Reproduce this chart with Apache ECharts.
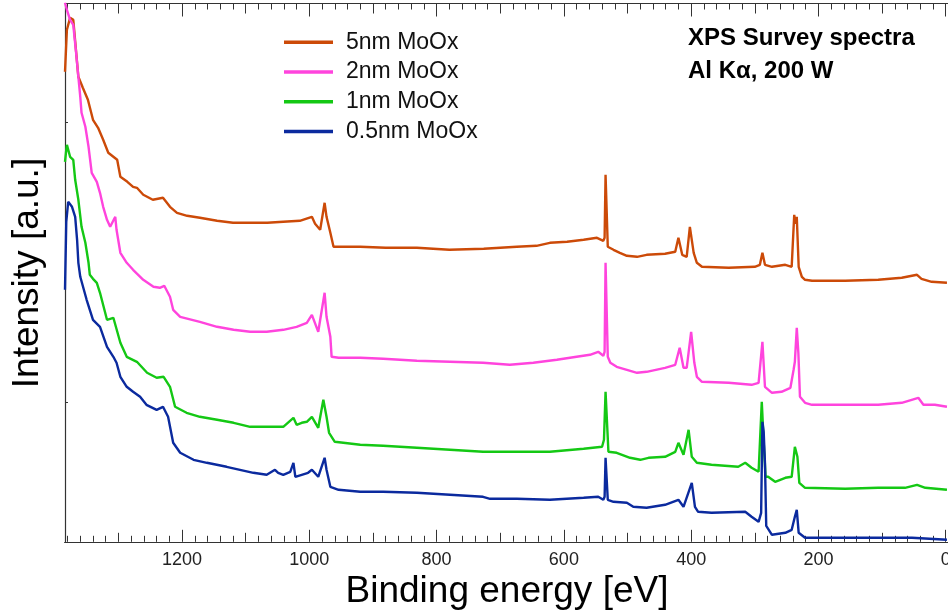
<!DOCTYPE html>
<html><head><meta charset="utf-8">
<script src="https://cdn.jsdelivr.net/npm/echarts@6/dist/echarts.min.js"></script>
<style>html,body{margin:0;padding:0;background:#fff;overflow:hidden}#c{width:948px;height:615px}</style>
</head><body><div id="c"></div>
<script>
const seriesNames = ['5nm MoOx', '2nm MoOx', '1nm MoOx', '0.5nm MoOx'];
const seriesColors = ['#CC4A08', '#FF44DD', '#14C814', '#0B2A9E'];

// 5nm MoOx : binding energy [eV] / intensity [a.u.]
const e5 = [1384,1381,1376,1371,1363,1356,1348,1340,1332,1324,1316,1308,1302,1297,1286,1277,1271,1261,1246,1230,1219,1208,1192,1172,1145,1120,1093,1066,1041,1015,996,991,983,976,973,967,962,955,920,880,831,780,726,674,643,622,595,569,548,538,536,534.5,533,531,522,512,501,485,470,441,425,420,414,407,402,396,391,383,341,300,292,288,284,273,252,242,238,236,234,231,226,221,210,158,106,69,45,38,22,-2];
const i5 = [470,512,524,522,465,454,442,422,414,402,389,385,382,365,360,355,354,347,342,344,335,329,326,324,321,319,319,319,320,321,325,318,312,339,325,309,295,295,295,294,294,292,293,295,296,299,300,302,304,301,304,367,367,295,292,289,286,285,287,288,290,304,287,285,315,289,279,275,274,275,277,289,277,275,277,275,327,318,325,275,265,262,261,261,262,264,267,263,260,259];

// 2nm MoOx
const e2 = [1384,1381,1376,1371,1367,1363,1360,1358,1352,1347,1342,1334,1329,1324,1318,1313,1305,1303,1297,1287,1277,1261,1245,1235,1228,1219,1214,1203,1172,1145,1119,1093,1067,1041,1020,1004,996,986,976,973,967,965,954,920,884,831,779,727,685,648,611,580,559,546,538,536,534.5,533,531,527,517,501,485,470,441,425,418,412,407,400,395,391,383,341,305,294,288,284,273,258,244,239,237,234,231.5,229,221,210,158,106,69,43,35,17,-2];
const i2 = [539,532,522,517,492,465,445,429,415,395,369,360,349,335,322,315,325,312,289,279,272,262,255,254,256,245,232,225,220,215,212,210,210,212,215,219,227,210,249,225,205,185,184,184,183,181,180,179,177,179,182,185,187,190,186,190,279,279,185,179,175,172,169,170,174,177,194,174,174,210,179,165,160,159,157,159,200,155,149,150,154,172,180,214,189,145,139,137,137,137,139,144,137,137,135];

// 1nm MoOx
const e1 = [1384,1382,1381,1376,1371,1368,1363,1358,1352,1347,1345,1340,1334,1329,1318,1316,1308,1297,1287,1271,1255,1240,1229,1219,1211,1193,1172,1145,1119,1093,1067,1041,1025,1020,1012,1004,996,986,978,973,969,960,920,884,831,779,727,674,622,569,540,537,534.5,533,530,517,496,480,467,441,425,420,412,404,399,391,368,326,315,305,294,292,289,286,283,279,268,252,242,237,233,230,221,158,106,64,45,32,-2];
const i1 = [380,392,397,385,382,362,342,315,299,279,267,263,259,249,222,220,224,199,185,180,169,164,165,155,135,129,125,122,119,115,115,115,124,117,119,120,125,114,142,125,109,100,97,96,94,92,90,90,90,93,95,102,150,150,90,89,84,82,84,85,90,99,87,112,85,79,77,75,79,74,70,70,140,100,65,65,60,64,65,95,85,59,54,53,54,54,57,54,52];

// 0.5nm MoOx
const e05 = [1384,1382,1379,1373,1368,1365,1363,1360,1350,1340,1329,1318,1308,1303,1297,1287,1277,1266,1256,1240,1230,1222,1214,1203,1182,1161,1130,1109,1088,1067,1054,1049,1041,1030,1025,1022,1002,996,986,976,973,967,954,920,884,831,779,727,716,674,622,569,546,538,536,534.5,533,531,522,501,491,470,441,420,412,399,394,389,368,315,305,294,290,288,286,284,282,273,252,242,237,234,231,221,158,53,-2];
const i05 = [252,320,340,335,325,302,279,265,242,222,215,195,185,179,165,155,150,145,137,132,135,125,99,89,82,79,75,72,69,67,72,69,67,70,79,65,69,72,65,84,72,55,52,50,50,49,47,45,43,43,42,44,45,42,45,84,84,42,40,39,35,34,37,42,35,59,35,30,29,30,25,20,29,120,110,79,16,7,9,12,25,32,9,4,4,4,2];

const xMajorTicks = [0, 200, 400, 600, 800, 1000, 1200];
const xMidTicks = [100, 300, 500, 700, 900, 1100, 1300];
const xMinorTicks = [];
for (let v = 20; v <= 1380; v += 20) { if (v % 100 !== 0) xMinorTicks.push(v); }
const yTicks = [140, 420];

const FONT = "'Liberation Sans', Arial, sans-serif";
const AX = '#333';

function xAx(pos, ticks, len, showLabel) {
  return {
    type: 'value', position: pos, min: -20, max: 1384, inverse: true,
    axisLine: { show: true, onZero: false, lineStyle: { color: AX, width: 1.2 } },
    axisTick: { show: true, inside: true, length: len, customValues: ticks, lineStyle: { color: AX, width: 1 } },
    axisLabel: { show: showLabel, customValues: ticks, margin: 9, fontSize: 18, fontFamily: FONT, color: '#222', formatter: (v) => String(v) },
    splitLine: { show: false }, minorTick: { show: false }
  };
}

function pairs(e, v) { return e.map((x, k) => [x, v[k]]); }
const allE = [e5, e2, e1, e05];
const allI = [i5, i2, i1, i05];

const chart = echarts.init(document.getElementById('c'), null, { renderer: 'canvas' });
chart.setOption({
  animation: false,
  backgroundColor: '#fff',
  grid: { left: 65, top: 3.5, width: 893.4, height: 538.3, containLabel: false, outerBoundsMode: 'none' },
  xAxis: [
    xAx('bottom', xMajorTicks, 12, true),
    xAx('bottom', xMidTicks, 9, false),
    xAx('bottom', xMinorTicks, 6, false),
    xAx('top', xMajorTicks, 13, false),
    xAx('top', xMidTicks, 10, false),
    xAx('top', xMinorTicks, 6, false)
  ],
  yAxis: {
    type: 'value', min: 0, max: 538.3, position: 'left',
    axisLine: { show: true, onZero: false, lineStyle: { color: AX, width: 1.2 } },
    axisTick: { show: true, inside: true, length: 3, customValues: yTicks, lineStyle: { color: AX } },
    axisLabel: { show: false }, splitLine: { show: false }
  },
  legend: {
    data: seriesNames, orient: 'vertical', left: 284, top: 27.5, itemGap: 0, padding: 0,
    icon: 'rect', itemWidth: 49, itemHeight: 3.5,
    textStyle: { fontSize: 23, fontFamily: FONT, color: '#111', lineHeight: 29.7, padding: [0, 0, 0, 8] }
  },
  graphic: [
    { type: 'text', x: 507, y: 591.5, style: { text: 'Binding energy [eV]', font: "37px 'Liberation Sans', Arial, sans-serif", fill: '#000', align: 'center', verticalAlign: 'middle', textAlign: 'center', textVerticalAlign: 'middle' } },
    { type: 'text', x: 27.8, y: 273, rotation: Math.PI / 2, style: { text: 'Intensity [a.u.]', font: "37px 'Liberation Sans', Arial, sans-serif", fill: '#000', align: 'center', verticalAlign: 'middle', textAlign: 'center', textVerticalAlign: 'middle' } },
    { type: 'text', x: 688, y: 38.3, style: { text: 'XPS Survey spectra', font: "bold 24px 'Liberation Sans', Arial, sans-serif", fill: '#000', align: 'left', verticalAlign: 'middle', textAlign: 'left', textVerticalAlign: 'middle' } },
    { type: 'text', x: 688, y: 70.9, style: { text: 'Al K\u03b1, 200 W', font: "bold 24px 'Liberation Sans', Arial, sans-serif", fill: '#000', align: 'left', verticalAlign: 'middle', textAlign: 'left', textVerticalAlign: 'middle' } }
  ],
  series: seriesNames.map((n, k) => ({
    name: n, type: 'line', xAxisIndex: 0, yAxisIndex: 0,
    data: pairs(allE[k], allI[k]),
    showSymbol: false, symbol: 'none', clip: true,
    lineStyle: { color: seriesColors[k], width: 2.4 },
    itemStyle: { color: seriesColors[k] }
  }))
});
</script></body></html>
